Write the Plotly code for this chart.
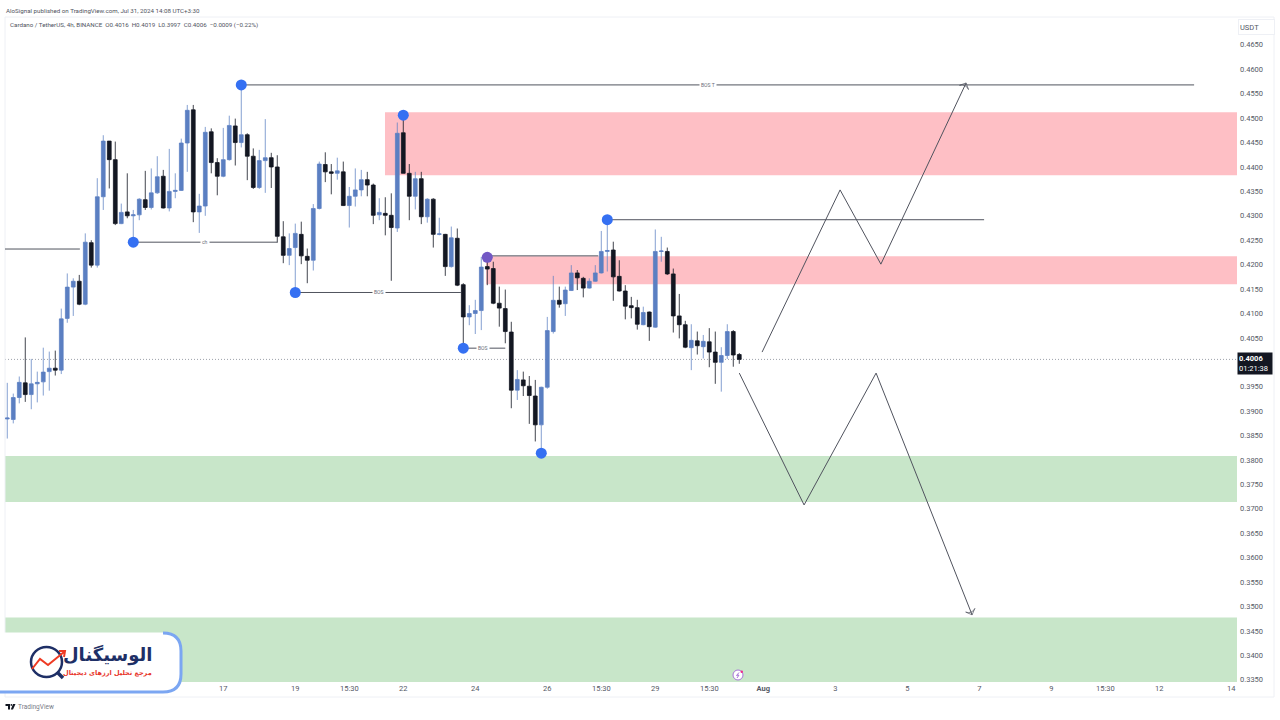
import pandas as pd
import plotly.graph_objects as go

opens = [.3884,.3883,.3928,.3958,.3934,.3956,.3960,.3981,.3988,.3984,
         .4090,.4154,.4166,.4119,.4245,.4199,.4339,.4453,.4415,.4284,
         .4308,.4300,.4302,.4333,.4317,.4347,.4381,.4316,.4350,.4352,
         .4449,.4517,.4308,.4320,.4472,.4409,.4381,.4415,.4484,.4450,
         .4466,.4422,.4358,.4413,.4419,.4400,.4257,.4219,.4235,.4262,
         .4217,.4209,.4315,.4405,.4390,.4387,.4390,.4321,.4340,.4353,
         .4374,.4363,.4302,.4305,.4301,.4275,.4470,.4387,.4340,.4376,
         .4298,.4334,.4262,.4262,.4196,.4254,.4159,.4093,.4100,.4106,
         .4196,.4192,.4121,.4110,.4062,.3943,.3964,.3951,.3931,.3872,
         .3949,.4063,.4127,.4120,.4147,.4183,.4172,.4152,.4166,.4183,
         .4227,.4230,.4176,.4146,.4116,.4112,.4077,.4103,.4072,.4227,
         .4227,.4181,.4095,.4077,.4030,.4044,.4032,.4042,.4021,.4000,
         .4014,.4063,.4016]
highs = [.3958,.3936,.3971,.4051,.4007,.3981,.4030,.4022,.4024,.4110,
         .4182,.4172,.4179,.4264,.4250,.4377,.4465,.4453,.4452,.4325,
         .4387,.4312,.4336,.4392,.4397,.4422,.4394,.4437,.4387,.4458,
         .4527,.4527,.4345,.4482,.4479,.4418,.4480,.4505,.4499,.4568,
         .4469,.4438,.4435,.4498,.4429,.4424,.4289,.4264,.4284,.4288,
         .4233,.4324,.4411,.4430,.4406,.4419,.4411,.4359,.4397,.4394,
         .4390,.4366,.4336,.4338,.4346,.4491,.4505,.4406,.4390,.4390,
         .4336,.4336,.4296,.4263,.4278,.4274,.4162,.4117,.4128,.4216,
         .4216,.4206,.4155,.4149,.4083,.3984,.3981,.3972,.3964,.3950,
         .4093,.4177,.4155,.4155,.4199,.4189,.4175,.4172,.4199,.4269,
         .4290,.4247,.4209,.4158,.4134,.4128,.4114,.4104,.4272,.4257,
         .4235,.4192,.4140,.4085,.4078,.4063,.4056,.4070,.4063,.4031,
         .4078,.4066,.4019]
lows = [.3844,.3875,.3916,.3919,.3904,.3918,.3932,.3942,.3973,.3976,
        .4081,.4095,.4117,.4117,.4194,.4194,.4312,.4356,.4281,.4283,
        .4295,.4246,.4291,.4312,.4313,.4345,.4315,.4309,.4336,.4351,
        .4390,.4287,.4265,.4300,.4387,.4342,.4379,.4413,.4403,.4440,
        .4373,.4355,.4355,.4347,.4357,.4245,.4203,.4199,.4143,.4201,
        .4162,.4188,.4313,.4369,.4344,.4374,.4320,.4276,.4319,.4340,
        .4340,.4283,.4291,.4260,.4167,.4267,.4387,.4291,.4313,.4283,
        .4286,.4235,.4260,.4177,.4194,.4156,.4030,.4076,.4058,.4066,
        .4158,.4119,.4073,.4039,.3906,.3923,.3931,.3874,.3838,.3814,
        .3946,.4059,.4112,.4095,.4146,.4148,.4133,.4151,.4165,.4182,
        .4186,.4126,.4145,.4088,.4090,.4067,.4076,.4044,.4071,.4206,
        .4179,.4061,.4049,.4029,.3984,.4016,.4008,.3990,.3956,.3940,
        .4007,.3991,.3997]
closes = [.3886,.3928,.3959,.3934,.3956,.3959,.3980,.3988,.3984,.4089,
          .4154,.4166,.4119,.4246,.4199,.4339,.4453,.4415,.4284,.4307,
          .4300,.4302,.4334,.4317,.4347,.4380,.4316,.4350,.4352,.4449,
          .4516,.4308,.4320,.4471,.4409,.4381,.4415,.4485,.4450,.4466,
          .4422,.4358,.4413,.4419,.4400,.4258,.4219,.4233,.4264,.4218,
          .4209,.4315,.4406,.4390,.4387,.4392,.4321,.4340,.4353,.4374,
          .4363,.4301,.4307,.4301,.4276,.4469,.4387,.4340,.4376,.4298,
          .4334,.4262,.4263,.4196,.4255,.4158,.4093,.4100,.4106,.4195,
          .4191,.4121,.4111,.4063,.3943,.3965,.3952,.3932,.3872,.3949,
          .4065,.4127,.4119,.4148,.4183,.4173,.4152,.4166,.4183,.4227,
          .4229,.4175,.4146,.4115,.4112,.4078,.4102,.4073,.4227,.4228,
          .4181,.4095,.4077,.4031,.4045,.4034,.4043,.4021,.4000,.4014,
          .4063,.4015,.4006]

price_ticks = [.4650,.4600,.4550,.4500,.4450,.4400,.4350,.4300,.4250,.4200,.4150,.4100,.4050,
               .3950,.3900,.3850,.3800,.3750,.3700,.3650,.3600,.3550,.3500,.3450,.3400,.3350]
date_ticks = ["2024-07-17 03:30","2024-07-19 03:30","2024-07-20 15:30","2024-07-22 03:30",
              "2024-07-24 03:30","2024-07-26 03:30","2024-07-27 15:30","2024-07-29 03:30",
              "2024-07-30 15:30","2024-08-01 03:30","2024-08-03 03:30","2024-08-05 03:30",
              "2024-08-07 03:30","2024-08-09 03:30","2024-08-10 15:30","2024-08-12 03:30",
              "2024-08-14 03:30"]
date_labels = ["17","19","15:30","22","24","26","15:30","29","15:30","<b>Aug</b>",
               "3","5","7","9","15:30","12","14"]

# zones: (first bar or None for the left edge, low, high)
supply_zones = [(62.95,.4383,.4512),(79.8,.4160,.4217)]
demand_zones = [(None,.3714,.3808),(None,.3343,.34775)]

# structure lines: bar start, bar end, level, label, label bar
struct_lines = [(-0.38,12.1,.4232,None,None),
                (39,197.8,.4568,"BOS T",116.8),
                (21,45,.4246,"ch",33),
                (48,75.6,.4143,"BOS",62),
                (76,83,.4029,"BOS",79.3),
                (80,98.5,.4218,None,None),
                (100,162.8,.4292,None,None)]

dot_bars = [21,39,48,66,76,89,100]
dot_prices = [.4246,.4568,.4143,.4506,.4029,.3814,.4292]
dot_purple_bar = [80]
dot_purple_price = [.4215]

up_path_bars = [125.8,138.8,145.6,159.8]
up_path_prices = [.4021,.4353,.4201,.4572]
down_path_bars = [122,132.8,144.8,160.8]
down_path_prices = [.3978,.3708,.3978,.3483]

last_price = .4006
START = pd.Timestamp("2024-07-11 03:30")
X_LEFT, X_RIGHT = -0.38, 204.95
Y_LOW, Y_HIGH = .33455, .4705


def when(bar):
    return START + pd.Timedelta(hours=4 * bar)


def fx(px):
    return (px - 5) / 1232


def fy(py):
    return (682 - py) / 664


dates = [when(i) for i in range(len(opens))]
fig = go.Figure()

fig.add_trace(go.Candlestick(
    x=dates, open=opens, high=highs, low=lows, close=closes,
    increasing=dict(line=dict(color="rgba(91,127,194,0.75)", width=1), fillcolor="#5B7FC2"),
    decreasing=dict(line=dict(color="rgba(19,23,34,0.8)", width=1), fillcolor="#131722"),
    whiskerwidth=0, hoverinfo="skip", showlegend=False))

shapes = []
for start, lo, hi in supply_zones:
    shapes.append(dict(type="rect", xref="x", x0=when(start), x1=when(X_RIGHT), yref="y", y0=lo, y1=hi,
                       fillcolor="#FEBFC5", line_width=0, layer="below"))
for start, lo, hi in demand_zones:
    shapes.append(dict(type="rect", xref="paper", x0=0, x1=1, yref="y", y0=lo, y1=hi,
                       fillcolor="#C8E6C9", line_width=0, layer="below"))
# last price dotted line
shapes.append(dict(type="line", xref="paper", x0=0, x1=1, yref="y", y0=last_price, y1=last_price,
                   line=dict(color="#9DA1AB", width=1, dash="1px,2px"), layer="below"))
# chart frame
shapes.append(dict(type="rect", xref="paper", yref="paper", x0=fx(5), x1=fx(1274), y0=fy(697), y1=fy(17),
                   line=dict(color="#EEF0F5", width=1), fillcolor="rgba(0,0,0,0)", layer="below"))

annotations = []
for b0, b1, level, label, label_bar in struct_lines:
    fig.add_trace(go.Scatter(x=[when(b0), when(b1)], y=[level, level], mode="lines",
                             line=dict(color="#50535E", width=1), hoverinfo="skip", showlegend=False))
    if label:
        annotations.append(dict(x=when(label_bar), y=level, xref="x", yref="y", text=label, showarrow=False,
                                font=dict(family="Roboto", size=5, color="#6A6D78"), bgcolor="#FFFFFF",
                                borderpad=1))

for bars, prices in ((up_path_bars, up_path_prices), (down_path_bars, down_path_prices)):
    fig.add_trace(go.Scatter(x=[when(b) for b in bars], y=prices, mode="lines+markers",
                             line=dict(color="#50535E", width=1),
                             marker=dict(symbol="arrow-wide-open", angleref="previous",
                                         size=[0, 0, 0, 7], color="#50535E",
                                         line=dict(color="#50535E", width=1)),
                             hoverinfo="skip", showlegend=False))

fig.add_trace(go.Scatter(x=[when(b) for b in dot_bars], y=dot_prices, mode="markers",
                         marker=dict(size=11, color="#3570F2"), hoverinfo="skip", showlegend=False))
fig.add_trace(go.Scatter(x=[when(b) for b in dot_purple_bar], y=dot_purple_price, mode="markers",
                         marker=dict(size=11, color="#7258C4"), hoverinfo="skip", showlegend=False))

# last price tag
annotations.append(dict(xref="paper", x=fx(1237), yref="paper", y=fy(363.5), xanchor="left", yanchor="middle",
                        text="<b>0.4006</b><br>01:21:38", showarrow=False, align="left", width=32, height=19,
                        bgcolor="#131722", font=dict(family="Roboto", size=7.5, color="#FFFFFF")))
annotations.append(dict(xref="paper", x=fx(1238), yref="paper", y=fy(26.5), xanchor="left", yanchor="middle",
                        text="USDT", showarrow=False, align="left", width=33, height=12, bgcolor="#FFFFFF",
                        bordercolor="#EEF0F5", borderwidth=1, font=dict(family="Roboto", size=7.5, color="#555965")))
# headers
annotations.append(dict(xref="paper", x=fx(3.5), yref="paper", y=fy(11), xanchor="left", yanchor="middle",
                        text="AloSignal published on TradingView.com, Jul 31, 2024 14:08 UTC+3:30", showarrow=False,
                        font=dict(family="Roboto", size=6.2, color="#50535E")))
annotations.append(dict(xref="paper", x=fx(7.5), yref="paper", y=fy(25), xanchor="left", yanchor="middle",
                        text="Cardano / TetherUS, 4h, BINANCE  O0.4016  H0.4019  L0.3997  C0.4006  −0.0009 (−0.22%)",
                        showarrow=False, font=dict(family="Roboto", size=6.2, color="#50535E")))
# footer
annotations.append(dict(xref="paper", x=fx(15.5), yref="paper", y=fy(707), xanchor="left", yanchor="middle",
                        text="TradingView", showarrow=False, font=dict(family="Roboto", size=6.5, color="#787B86")))

# TradingView mark
shapes.append(dict(type="path", xref="paper", yref="paper", fillcolor="#131722", line_width=0,
                   path=f"M{fx(5.5)},{fy(704)} L{fx(10)},{fy(704)} L{fx(10)},{fy(709.5)} L{fx(8)},{fy(709.5)} "
                        f"L{fx(8)},{fy(706)} L{fx(5.5)},{fy(706)} Z "
                        f"M{fx(13)},{fy(704)} L{fx(15.5)},{fy(704)} L{fx(13)},{fy(709.5)} L{fx(10.8)},{fy(709.5)} Z"))
shapes.append(dict(type="circle", xref="paper", yref="paper", x0=fx(10.5), x1=fx(12.2), y0=fy(705.8), y1=fy(704),
                   line_width=0, fillcolor="#131722"))

# brand card
c_l, c_r, c_t, c_b, rad = 0, 181, 633, 692, 18
card = (f"M{fx(c_l)},{fy(c_t)} L{fx(c_r-rad)},{fy(c_t)} Q{fx(c_r)},{fy(c_t)} {fx(c_r)},{fy(c_t+rad)} "
        f"L{fx(c_r)},{fy(c_b-rad)} Q{fx(c_r)},{fy(c_b)} {fx(c_r-rad)},{fy(c_b)} L{fx(c_l)},{fy(c_b)} Z")
shapes.append(dict(type="path", xref="paper", yref="paper", path=card, fillcolor="#FFFFFF",
                   line=dict(color="#FFFFFF", width=1), layer="above"))
edge = (f"M{fx(c_r-rad)},{fy(c_t)} Q{fx(c_r)},{fy(c_t)} {fx(c_r)},{fy(c_t+rad)} "
        f"L{fx(c_r)},{fy(c_b-rad)} Q{fx(c_r)},{fy(c_b)} {fx(c_r-rad)},{fy(c_b)} L{fx(c_l)},{fy(c_b)}")
shapes.append(dict(type="path", xref="paper", yref="paper", path=edge, fillcolor="rgba(0,0,0,0)",
                   line=dict(color="#7BA6F2", width=3), layer="above"))
shapes.append(dict(type="circle", xref="paper", yref="paper", x0=fx(31), x1=fx(62), y0=fy(677), y1=fy(647),
                   line=dict(color="#1E2F66", width=2.5), fillcolor="#FFFFFF", layer="above"))
shapes.append(dict(type="line", xref="paper", yref="paper", x0=fx(57), y0=fy(672), x1=fx(63), y1=fy(678),
                   line=dict(color="#1E2F66", width=3.5), layer="above"))
shapes.append(dict(type="path", xref="paper", yref="paper", fillcolor="rgba(0,0,0,0)",
                   path=f"M{fx(32)},{fy(669)} L{fx(40)},{fy(659)} L{fx(48)},{fy(665)} L{fx(64)},{fy(652)} "
                        f"M{fx(59)},{fy(651)} L{fx(65)},{fy(651)} L{fx(64)},{fy(657)}",
                   line=dict(color="#EE3B24", width=2), layer="above"))
annotations.append(dict(xref="paper", x=fx(154), yref="paper", y=fy(655), xanchor="right", yanchor="middle",
                        text="<b>الوسیگنال</b>", showarrow=False,
                        font=dict(family="DejaVu Sans", size=18, color="#1E2F66")))
annotations.append(dict(xref="paper", x=fx(154), yref="paper", y=fy(673), xanchor="right", yanchor="middle",
                        text="<b>مرجع تحلیل ارزهای دیجیتال</b>", showarrow=False,
                        font=dict(family="DejaVu Sans", size=6.5, color="#E8352A")))

# lightning badge
shapes.append(dict(type="circle", xref="paper", yref="paper", x0=fx(733), x1=fx(743), y0=fy(680), y1=fy(670),
                   line=dict(color="#A874D8", width=1), fillcolor="#FFFFFF", layer="above"))
shapes.append(dict(type="path", xref="paper", yref="paper", fillcolor="rgba(0,0,0,0)",
                   path=f"M{fx(739)},{fy(672.5)} L{fx(736.5)},{fy(675.5)} L{fx(739)},{fy(675)} L{fx(737)},{fy(678)}",
                   line=dict(color="#A874D8", width=1), layer="above"))
shapes.append(dict(type="circle", xref="paper", yref="paper", x0=fx(740.5), x1=fx(743), y0=fy(673), y1=fy(670.5),
                   line_width=0, fillcolor="#F0288C", layer="above"))

fig.update_layout(
    width=1280, height=720, autosize=False, margin=dict(l=5, r=43, t=18, b=38),
    paper_bgcolor="#FFFFFF", plot_bgcolor="#FFFFFF", boxgap=0.1, showlegend=False,
    shapes=shapes, annotations=annotations,
    font=dict(family="Roboto", size=7.5, color="#555965"),
    xaxis=dict(type="date", range=[when(X_LEFT), when(X_RIGHT)], tickmode="array", tickvals=date_ticks,
               ticktext=date_labels, showgrid=False, zeroline=False, showline=False, ticks="",
               rangeslider=dict(visible=False), tickfont=dict(family="Roboto", size=7.5, color="#555965")),
    yaxis=dict(side="right", range=[Y_LOW, Y_HIGH], tickmode="array", tickvals=price_ticks, tickformat=".4f",
               showgrid=False, zeroline=False, showline=False, ticks="", ticklabelstandoff=2,
               tickfont=dict(family="Roboto", size=7.5, color="#555965")),
)
fig.write_html("out.html", config=dict(displayModeBar=False),
               post_script="document.body.style.margin='0';document.documentElement.style.overflow='hidden';")
